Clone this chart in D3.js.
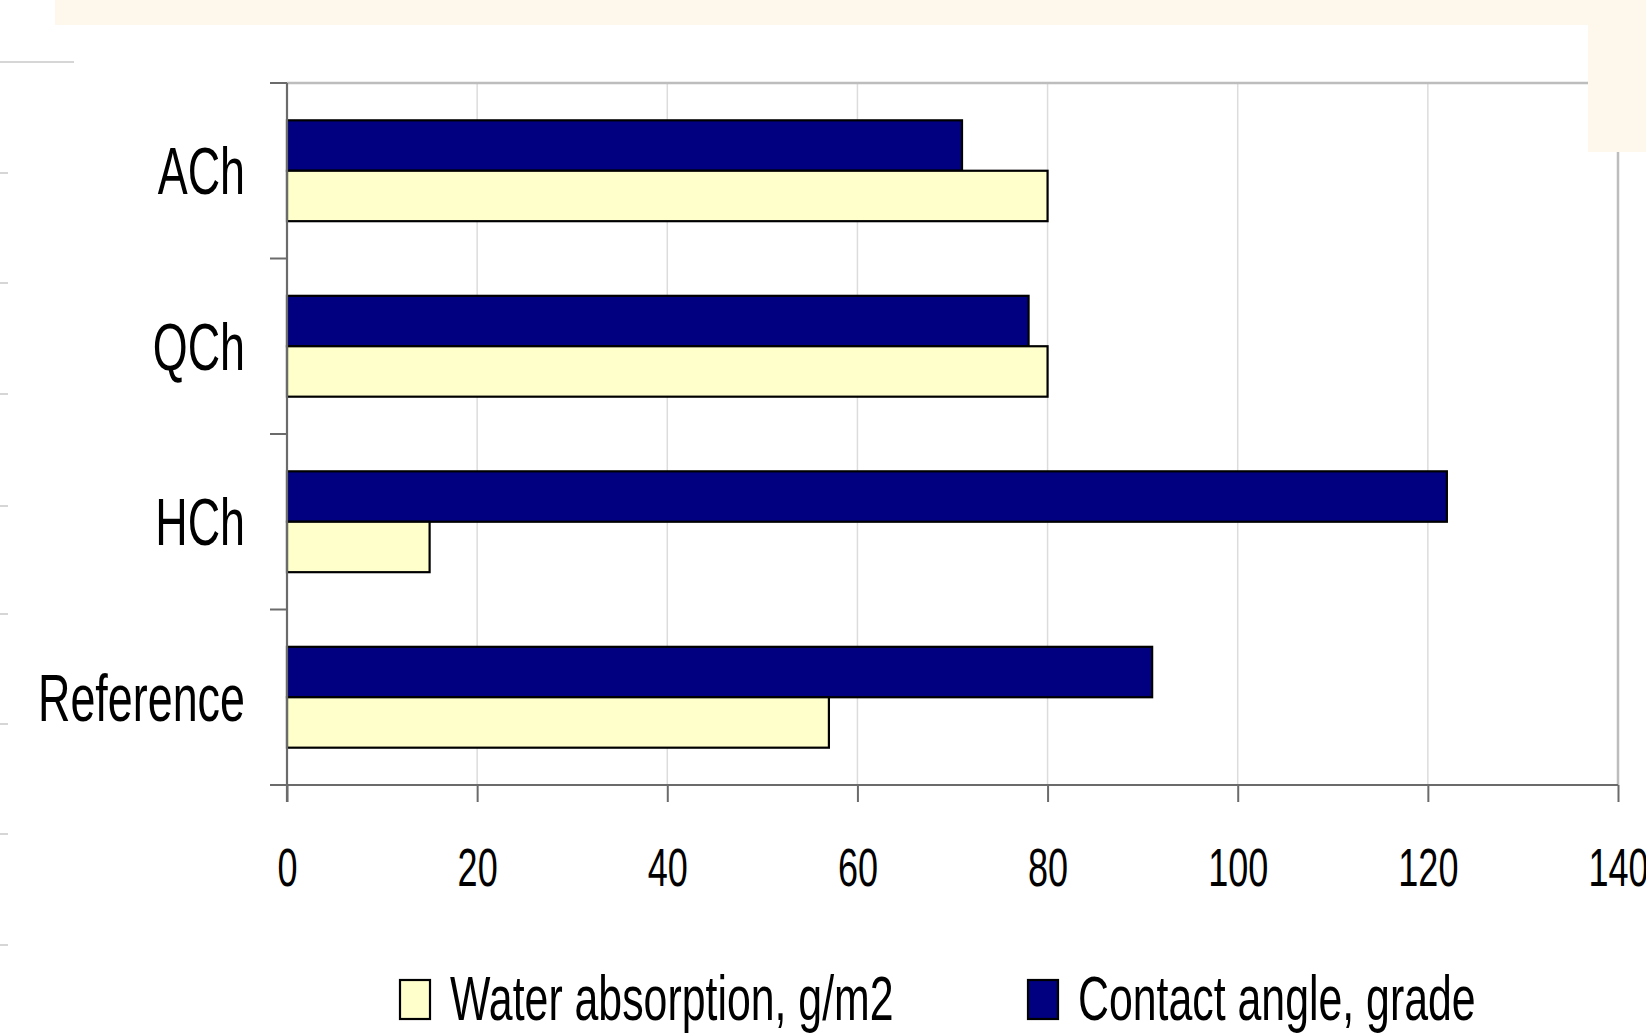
<!DOCTYPE html>
<html>
<head>
<meta charset="utf-8">
<script src="https://cdn.jsdelivr.net/npm/d3@7"></script>
<style>
  body { margin: 0; background: #fff; }
  svg { display: block; }
</style>
</head>
<body>
<svg id="chart"></svg>
<script>
// categories top to bottom
const categories = ["ACh", "QCh", "HCh", "Reference"];
const seriesNames = ["Contact angle, grade", "Water absorption, g/m2"];
const contactAngle = [71, 78, 122, 91];
const waterAbsorption = [80, 80, 15, 57];
const xTicks = [0, 20, 40, 60, 80, 100, 120, 140];
const legendOrder = ["Water absorption, g/m2", "Contact angle, grade"];

const W = 1646, H = 1035;
const margin = { top: 83, right: 28, bottom: 250, left: 287 };
const squeeze = 0.68; // the original font is very condensed
const font = "'Liberation Sans', Arial, sans-serif";
const colors = { "Contact angle, grade": "#000080", "Water absorption, g/m2": "#ffffcc" };

const svg = d3.select("#chart").attr("width", W).attr("height", H);

// page decorations
svg.append("rect").attr("x", 55).attr("y", 0).attr("width", W - 55).attr("height", 25).attr("fill", "#fdf8eb");
svg.append("line").attr("x1", 0).attr("x2", 74).attr("y1", 62).attr("y2", 62)
  .attr("stroke", "#d6d6d6").attr("stroke-width", 2);
[173, 283, 394, 506, 614, 724, 834, 945].forEach(y => {
  svg.append("line").attr("x1", 0).attr("x2", 8).attr("y1", y).attr("y2", y)
    .attr("stroke", "#d6d6d6").attr("stroke-width", 2);
});

const x = d3.scaleLinear().domain([0, 140]).range([margin.left, W - margin.right]);
const y = d3.scaleBand().domain(categories).range([margin.top, H - margin.bottom]);
const ySub = d3.scaleBand().domain(seriesNames).range([0, y.bandwidth()]).paddingOuter(0.74);

const rows = categories.map((c, i) => ({
  cat: c,
  values: [
    { key: "Contact angle, grade", value: contactAngle[i] },
    { key: "Water absorption, g/m2", value: waterAbsorption[i] }
  ]
}));

// vertical grid lines
svg.append("g").selectAll("line")
  .data(xTicks.slice(1))
  .join("line")
  .attr("x1", d => x(d)).attr("x2", d => x(d))
  .attr("y1", margin.top).attr("y2", H - margin.bottom)
  .attr("stroke", d => d === 140 ? "#bdbdbd" : "#dcdcdc")
  .attr("stroke-width", d => d === 140 ? 2.5 : 1.5);

// top border
svg.append("line")
  .attr("x1", margin.left).attr("x2", x(140))
  .attr("y1", margin.top).attr("y2", margin.top)
  .attr("stroke", "#bdbdbd").attr("stroke-width", 2.5);

// bars
const groups = svg.append("g").selectAll("g")
  .data(rows)
  .join("g")
  .attr("transform", d => `translate(0,${y(d.cat)})`);

groups.selectAll("rect")
  .data(d => d.values)
  .join("rect")
  .attr("x", x(0))
  .attr("y", d => ySub(d.key))
  .attr("width", d => x(d.value) - x(0))
  .attr("height", ySub.bandwidth())
  .attr("fill", d => colors[d.key])
  .attr("stroke", "#000")
  .attr("stroke-width", 2.2);

// x axis
const xAxis = svg.append("g")
  .attr("transform", `translate(0,${H - margin.bottom})`)
  .call(d3.axisBottom(x).tickValues(xTicks).tickSize(17).tickSizeOuter(0));
xAxis.select(".domain").attr("stroke", "#6b6b6b").attr("stroke-width", 2.2)
  .attr("d", `M${margin.left - 17},0H${x(140)}`);
xAxis.selectAll(".tick line").attr("stroke", "#6b6b6b").attr("stroke-width", 2);
xAxis.selectAll(".tick text")
  .attr("y", 101).attr("dy", 0)
  .attr("transform", `scale(${squeeze},1)`)
  .style("font-family", font).style("font-size", "53px").attr("fill", "#000");

// y axis with ticks between categories
const yAxis = svg.append("g");
yAxis.append("line")
  .attr("x1", margin.left).attr("x2", margin.left)
  .attr("y1", margin.top).attr("y2", H - margin.bottom + 17)
  .attr("stroke", "#6b6b6b").attr("stroke-width", 2.2);
yAxis.selectAll("line.sep")
  .data(categories.map(c => y(c)))
  .join("line")
  .attr("class", "sep")
  .attr("x1", margin.left - 17).attr("x2", margin.left)
  .attr("y1", d => d).attr("y2", d => d)
  .attr("stroke", "#6b6b6b").attr("stroke-width", 2);

yAxis.selectAll("text")
  .data(categories)
  .join("text")
  .attr("transform", d => `translate(${margin.left - 42},${y(d) + y.bandwidth() / 2}) scale(${squeeze},1)`)
  .attr("dy", "0.355em")
  .attr("text-anchor", "end")
  .style("font-family", font).style("font-size", "66px")
  .text(d => d);

// corner block on top right (drawn over border)
svg.append("rect").attr("x", 1588).attr("y", 0).attr("width", W - 1588).attr("height", 152).attr("fill", "#fdf8eb");

// legend
const legendPos = [400, 1028];
const legend = svg.append("g").selectAll("g")
  .data(legendOrder)
  .join("g")
  .attr("transform", (d, i) => `translate(${legendPos[i]},980)`);
legend.append("rect")
  .attr("width", 30).attr("height", 39)
  .attr("fill", d => colors[d])
  .attr("stroke", "#000").attr("stroke-width", 2.2);
legend.append("text")
  .attr("transform", `translate(50,40) scale(${squeeze},1)`)
  .style("font-family", font).style("font-size", "63px")
  .text(d => d);
</script>
</body>
</html>
